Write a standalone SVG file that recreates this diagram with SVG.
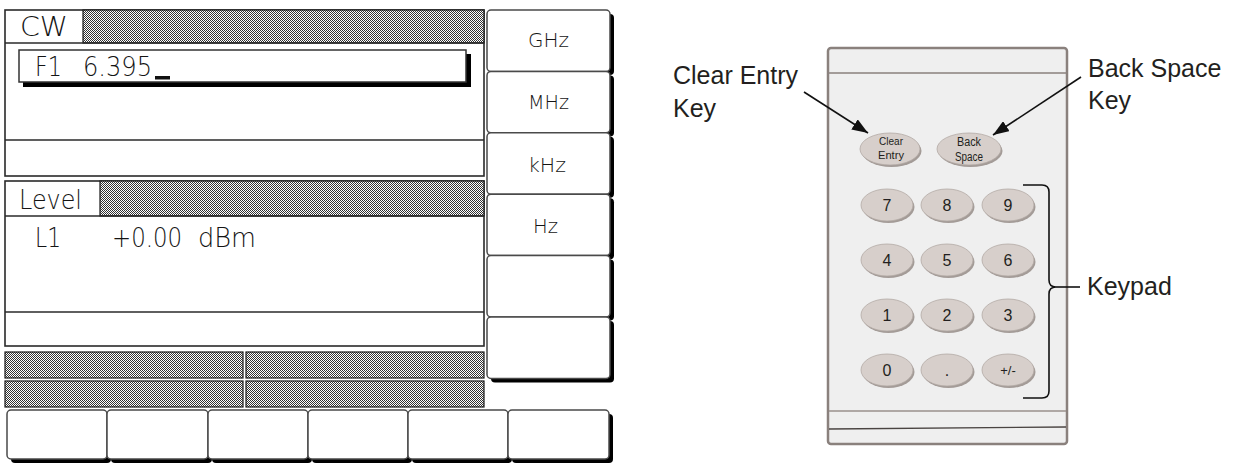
<svg xmlns="http://www.w3.org/2000/svg" width="1235" height="465" viewBox="0 0 1235 465">
<defs>
  <pattern id="hatch" width="2" height="2" patternUnits="userSpaceOnUse">
    <rect width="2" height="2" fill="#ffffff"/>
    <rect width="1" height="1" fill="#333333"/>
    <rect x="1" y="1" width="1" height="1" fill="#333333"/>
  </pattern>
  <marker id="arrow" viewBox="0 0 16 12" refX="16" refY="6" markerWidth="16" markerHeight="12" markerUnits="userSpaceOnUse" orient="auto">
    <path d="M0,0 L16,6 L0,12 Z" fill="#111"/>
  </marker>
</defs>
<style>
  .ln { fill: none; stroke: #2a2a2a; stroke-width: 1.6; }
  .hat { fill: url(#hatch); stroke: #1a1a1a; stroke-width: 1.2; }
  .lcd { font-family: "DejaVu Sans", "Liberation Sans", sans-serif; font-weight: 200; fill: #141414; }
  .big { font-size: 26px; }
  .sk { font-size: 20px; }
  .key { fill: #ffffff; stroke: #4a4a4a; stroke-width: 1.5; }
  .shadow { fill: #000000; }
  .pad { fill: #efefef; stroke: #8a817d; stroke-width: 2.5; }
  .kb { fill: #d7cfcb; stroke: #b2a9a5; stroke-width: 0.8; }
  .ks { fill: #a39b97; }
  .kt { font-family: "Liberation Sans", Arial, sans-serif; fill: #231f20; text-anchor: middle; }
  .lab { font-family: "Liberation Sans", Arial, sans-serif; font-size: 25px; fill: #231f20; }
  .conn { fill: none; stroke: #111; stroke-width: 1.6; }
</style>
<rect width="1235" height="465" fill="#ffffff"/>

<!-- CW panel -->
<g id="cw-panel">
  <rect x="5" y="10" width="479" height="166" fill="#fff" class="ln"/>
  <rect x="83" y="10" width="401" height="33" class="hat"/>
  <line x1="5" y1="43" x2="484" y2="43" class="ln"/>
  <text class="lcd big" x="20" y="36" textLength="48" lengthAdjust="spacingAndGlyphs">CW</text>
  <rect x="23" y="54" width="448" height="33" class="shadow"/>
  <rect x="19" y="50" width="447" height="32" fill="#fff" stroke="#333" stroke-width="1.5"/>
  <text class="lcd big" x="35" y="76" font-size="27" textLength="27" lengthAdjust="spacingAndGlyphs">F1</text>
  <text class="lcd big" x="83" y="76" font-size="27" textLength="69" lengthAdjust="spacingAndGlyphs">6.395</text>
  <rect x="155" y="76" width="15" height="3.5" fill="#111"/>
  <line x1="5" y1="140" x2="484" y2="140" class="ln"/>
</g>

<!-- Level panel -->
<g id="level-panel">
  <rect x="5" y="181" width="479" height="165" fill="#fff" class="ln"/>
  <rect x="100" y="181" width="384" height="35" class="hat"/>
  <line x1="5" y1="216" x2="484" y2="216" class="ln"/>
  <text class="lcd big" x="19" y="209" textLength="63" lengthAdjust="spacingAndGlyphs">Level</text>
  <text class="lcd big" x="35" y="247" textLength="26" lengthAdjust="spacingAndGlyphs">L1</text>
  <text class="lcd big" x="112" y="247" textLength="70" lengthAdjust="spacingAndGlyphs">+0.00</text>
  <text class="lcd big" x="198" y="247" textLength="58" lengthAdjust="spacingAndGlyphs">dBm</text>
  <line x1="5" y1="312" x2="484" y2="312" class="ln"/>
</g>

<!-- status bars -->
<g id="status-bars">
  <rect x="5" y="352" width="238" height="26" class="hat"/>
  <rect x="246" y="352" width="238" height="26" class="hat"/>
  <rect x="5" y="381" width="238" height="26" class="hat"/>
  <rect x="246" y="381" width="238" height="26" class="hat"/>
</g>

<!-- right softkeys -->
<g id="softkeys-right">
  <rect x="491" y="14" width="123" height="61" rx="4" class="shadow"/>
  <rect x="491" y="75.4" width="123" height="61" rx="4" class="shadow"/>
  <rect x="491" y="136.8" width="123" height="61" rx="4" class="shadow"/>
  <rect x="491" y="198.2" width="123" height="61" rx="4" class="shadow"/>
  <rect x="491" y="259.6" width="123" height="61" rx="4" class="shadow"/>
  <rect x="491" y="321" width="123" height="61.4" rx="4" class="shadow"/>
  <g id="key-ghz"><rect x="487" y="10" width="123" height="61.4" rx="4" class="key"/>
    <text class="lcd sk" x="528" y="47" textLength="41" lengthAdjust="spacingAndGlyphs">GHz</text></g>
  <g id="key-mhz"><rect x="487" y="71.4" width="123" height="61.4" rx="4" class="key"/>
    <text class="lcd sk" x="528" y="109" textLength="41" lengthAdjust="spacingAndGlyphs">MHz</text></g>
  <g id="key-khz"><rect x="487" y="132.8" width="123" height="61.4" rx="4" class="key"/>
    <text class="lcd sk" x="528" y="172" textLength="38" lengthAdjust="spacingAndGlyphs">kHz</text></g>
  <g id="key-hz"><rect x="487" y="194.2" width="123" height="61.4" rx="4" class="key"/>
    <text class="lcd sk" x="533" y="233" textLength="25" lengthAdjust="spacingAndGlyphs">Hz</text></g>
  <g id="key-r5"><rect x="487" y="255.6" width="123" height="61.4" rx="4" class="key"/></g>
  <g id="key-r6"><rect x="487" y="317" width="123" height="61.4" rx="4" class="key"/></g>
</g>

<!-- bottom softkeys -->
<g id="softkeys-bottom">
  <rect x="11" y="414" width="100" height="49" rx="4" class="shadow"/>
  <rect x="111" y="414" width="101" height="49" rx="4" class="shadow"/>
  <rect x="212" y="414" width="100" height="49" rx="4" class="shadow"/>
  <rect x="312" y="414" width="100" height="49" rx="4" class="shadow"/>
  <rect x="412" y="414" width="100" height="49" rx="4" class="shadow"/>
  <rect x="512" y="414" width="101" height="49" rx="4" class="shadow"/>
  <g id="key-b1"><rect x="7" y="410" width="100" height="49" rx="4" class="key"/></g>
  <g id="key-b2"><rect x="107" y="410" width="101" height="49" rx="4" class="key"/></g>
  <g id="key-b3"><rect x="208" y="410" width="100" height="49" rx="4" class="key"/></g>
  <g id="key-b4"><rect x="308" y="410" width="100" height="49" rx="4" class="key"/></g>
  <g id="key-b5"><rect x="408" y="410" width="100" height="49" rx="4" class="key"/></g>
  <g id="key-b6"><rect x="508" y="410" width="101" height="49" rx="4" class="key"/></g>
</g>

<!-- keypad -->
<g id="keypad">
  <rect x="828" y="48" width="239" height="396" rx="3" class="pad"/>
  <line x1="829" y1="73" x2="1066" y2="73" stroke="#8a817d" stroke-width="1.5"/>
  <line x1="829" y1="411" x2="1066" y2="411" stroke="#9a918d" stroke-width="1.5"/>
  <line x1="829" y1="429" x2="1066" y2="427" stroke="#4a4442" stroke-width="1.3"/>

  <g id="key-clear">
    <ellipse cx="891.5" cy="151" rx="30" ry="16" class="ks"/>
    <ellipse cx="890" cy="149" rx="30" ry="16" class="kb"/>
    <text class="kt" x="891" y="145" font-size="11.5" textLength="24" lengthAdjust="spacingAndGlyphs">Clear</text>
    <text class="kt" x="891" y="159" font-size="11.5" textLength="26" lengthAdjust="spacingAndGlyphs">Entry</text>
  </g>
  <g id="key-back">
    <ellipse cx="970.5" cy="151" rx="32" ry="16" class="ks"/>
    <ellipse cx="969" cy="149" rx="32" ry="16" class="kb"/>
    <text class="kt" x="969" y="146" font-size="12" textLength="24" lengthAdjust="spacingAndGlyphs">Back</text>
    <text class="kt" x="969" y="161" font-size="12" textLength="28" lengthAdjust="spacingAndGlyphs">Space</text>
  </g>

  <g id="key-7"><ellipse cx="888.5" cy="207" rx="26" ry="16" class="ks"/><ellipse cx="887" cy="205" rx="26" ry="16" class="kb"/><text class="kt" x="887" y="211" font-size="16">7</text></g>
  <g id="key-8"><ellipse cx="948.5" cy="207" rx="26" ry="16" class="ks"/><ellipse cx="947" cy="205" rx="26" ry="16" class="kb"/><text class="kt" x="947" y="211" font-size="16">8</text></g>
  <g id="key-9"><ellipse cx="1009.5" cy="207" rx="26" ry="16" class="ks"/><ellipse cx="1008" cy="205" rx="26" ry="16" class="kb"/><text class="kt" x="1008" y="211" font-size="16">9</text></g>

  <g id="key-4"><ellipse cx="888.5" cy="262" rx="26" ry="16" class="ks"/><ellipse cx="887" cy="260" rx="26" ry="16" class="kb"/><text class="kt" x="887" y="266" font-size="16">4</text></g>
  <g id="key-5"><ellipse cx="948.5" cy="262" rx="26" ry="16" class="ks"/><ellipse cx="947" cy="260" rx="26" ry="16" class="kb"/><text class="kt" x="947" y="266" font-size="16">5</text></g>
  <g id="key-6"><ellipse cx="1009.5" cy="262" rx="26" ry="16" class="ks"/><ellipse cx="1008" cy="260" rx="26" ry="16" class="kb"/><text class="kt" x="1008" y="266" font-size="16">6</text></g>

  <g id="key-1"><ellipse cx="888.5" cy="317" rx="26" ry="16" class="ks"/><ellipse cx="887" cy="315" rx="26" ry="16" class="kb"/><text class="kt" x="887" y="321" font-size="16">1</text></g>
  <g id="key-2"><ellipse cx="948.5" cy="317" rx="26" ry="16" class="ks"/><ellipse cx="947" cy="315" rx="26" ry="16" class="kb"/><text class="kt" x="947" y="321" font-size="16">2</text></g>
  <g id="key-3"><ellipse cx="1009.5" cy="317" rx="26" ry="16" class="ks"/><ellipse cx="1008" cy="315" rx="26" ry="16" class="kb"/><text class="kt" x="1008" y="321" font-size="16">3</text></g>

  <g id="key-0"><ellipse cx="888.5" cy="372" rx="26" ry="16" class="ks"/><ellipse cx="887" cy="370" rx="26" ry="16" class="kb"/><text class="kt" x="887" y="376" font-size="16">0</text></g>
  <g id="key-dot"><ellipse cx="948.5" cy="372" rx="26" ry="16" class="ks"/><ellipse cx="947" cy="370" rx="26" ry="16" class="kb"/><text class="kt" x="947" y="376" font-size="16">.</text></g>
  <g id="key-pm"><ellipse cx="1009.5" cy="372" rx="26" ry="16" class="ks"/><ellipse cx="1008" cy="370" rx="26" ry="16" class="kb"/><text class="kt" x="1008" y="375" font-size="13">+/-</text></g>
</g>

<!-- labels -->
<g id="label-clear">
  <text class="lab" x="673" y="84">Clear Entry</text>
  <text class="lab" x="673" y="117">Key</text>
</g>
<g id="label-back">
  <text class="lab" x="1088" y="77">Back Space</text>
  <text class="lab" x="1088" y="109">Key</text>
</g>
<g id="label-keypad">
  <text class="lab" x="1087" y="295">Keypad</text>
</g>

<!-- connectors -->
<g id="connectors">
  <line x1="804" y1="92" x2="868" y2="133" class="conn" marker-end="url(#arrow)"/>
  <line x1="1081" y1="77" x2="993" y2="135" class="conn" marker-end="url(#arrow)"/>
  <path d="M1023,185 L1042,185 Q1049,185 1049,192 L1049,280 Q1049,287 1056,287 Q1049,287 1049,294 L1049,391 Q1049,398 1042,398 L1023,398" class="conn" stroke-width="1.5"/>
  <line x1="1056" y1="287" x2="1080" y2="287" class="conn" stroke-width="1.5"/>
</g>
</svg>
